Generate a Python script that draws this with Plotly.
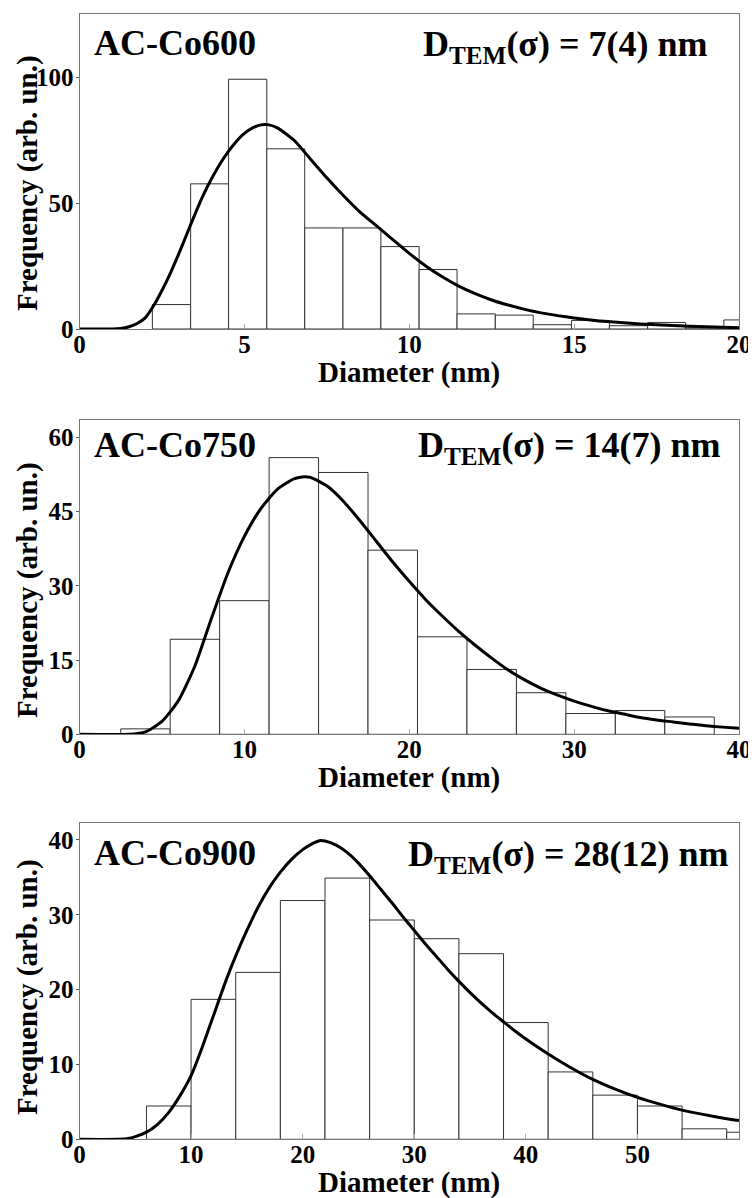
import plotly.graph_objects as go

# ---------------- data ----------------
# Panel 1: AC-Co600
edges1 = [2.21, 3.37, 4.52, 5.68, 6.83, 7.99, 9.14, 10.30, 11.45, 12.61, 13.76,
          14.92, 16.07, 17.23, 18.38, 19.54, 20.69]
counts1 = [9.7, 57.6, 99.1, 71.5, 40.1, 40.1, 32.7, 23.6, 6.0, 5.5, 1.7, 3.4,
           1.3, 2.6, 0.4, 3.6]
fit_x1 = [0, 1.0, 1.25, 1.5, 1.75, 2.0, 2.25, 2.5, 2.75, 3.0, 3.25, 3.5, 3.75,
          4.0, 4.25, 4.5, 4.75, 5.0, 5.25, 5.5, 5.75, 6.0, 6.5, 7.0, 7.5, 8.0,
          8.5, 9.0, 9.5, 10.0, 10.5, 11.0, 11.5, 12.0, 12.5, 13.0, 13.5, 14.0,
          14.5, 15.0, 15.5, 16.0, 17.0, 18.0, 19.0, 20.0]
fit_y1 = [0, 0, 0.2, 0.9, 2.2, 4.5, 9.3, 15.3, 22.0, 29.5, 37.5, 45.5, 53.0,
          59.5, 65.3, 70.2, 74.3, 77.6, 79.8, 81.0, 81.0, 79.8, 75.0, 67.5,
          60.0, 53.0, 46.5, 41.0, 35.5, 30.0, 25.0, 20.7, 17.0, 14.0, 11.5,
          9.5, 7.8, 6.4, 5.3, 4.4, 3.6, 2.95, 2.0, 1.35, 0.85, 0.5]

# Panel 2: AC-Co750
edges2 = [2.5, 5.5, 8.5, 11.5, 14.5, 17.5, 20.5, 23.5, 26.5, 29.5, 32.5, 35.5, 38.5]
counts2 = [1.1, 19.2, 27.0, 55.9, 52.9, 37.2, 19.7, 13.1, 8.4, 4.2, 4.8, 3.5]
fit_x2 = [0, 3.0, 4.0, 5.0, 6.0, 7.0, 8.0, 9.0, 10.0, 11.0, 12.0, 13.0, 13.5,
          14.0, 15.0, 16.0, 17.0, 18.0, 19.0, 20.0, 21.0, 22.0, 23.0, 24.0,
          25.0, 26.0, 27.0, 28.0, 29.0, 30.0, 31.0, 32.0, 33.0, 34.0, 35.0,
          36.0, 37.0, 38.0, 39.0, 40.0]
fit_y2 = [0, 0, 0.5, 2.6, 6.8, 13.8, 23.4, 32.6, 40.0, 45.6, 49.5, 51.6, 52.0,
          51.9, 50.2, 47.1, 43.2, 39.0, 34.8, 30.9, 27.2, 23.9, 20.8, 18.0,
          15.4, 13.0, 11.0, 9.3, 7.9, 6.7, 5.7, 4.8, 4.1, 3.4, 2.9, 2.5, 2.1,
          1.75, 1.45, 1.2]

# Panel 3: AC-Co900
edges3 = [6, 10, 14, 18, 22, 26, 30, 34, 38, 42, 46, 50, 54, 58, 62]
counts3 = [4.45, 18.7, 22.3, 31.9, 34.9, 29.3, 26.8, 24.8, 15.6, 9.0, 5.9,
           4.45, 1.4, 0.94]
fit_x3 = [0, 3.5, 4.5, 5.0, 6.0, 7.0, 8.0, 9.0, 10.0, 11.0, 12.0, 13.0, 14.0,
          15.0, 16.0, 17.0, 18.0, 19.0, 20.0, 21.0, 21.5, 22.0, 23.0, 24.0,
          25.0, 26.0, 27.0, 28.0, 29.0, 30.0, 31.0, 32.0, 33.0, 34.0, 35.0,
          36.0, 37.0, 38.0, 39.0, 40.0, 42.0, 44.0, 46.0, 48.0, 50.0, 52.0,
          54.0, 56.0, 58.0, 59.1]
fit_y3 = [0, 0, 0.15, 0.35, 0.95, 2.0, 3.6, 5.8, 8.5, 12.3, 16.5, 20.7, 24.5,
          27.9, 31.0, 33.6, 35.7, 37.4, 38.7, 39.6, 39.9, 39.85, 39.3, 38.3,
          36.9, 35.2, 33.4, 31.6, 29.7, 27.9, 26.1, 24.4, 22.7, 21.1, 19.6,
          18.2, 16.9, 15.7, 14.5, 13.4, 11.4, 9.6, 8.0, 6.7, 5.6, 4.7, 3.9,
          3.3, 2.75, 2.5]

samples = ["AC-Co600", "AC-Co750", "AC-Co900"]
d_tem = ["7(4)", "14(7)", "28(12)"]
x_ticks = [[0, 5, 10, 15, 20], [0, 10, 20, 30, 40], [0, 10, 20, 30, 40, 50]]
y_ticks = [[0, 50, 100], [0, 15, 30, 45, 60], [0, 10, 20, 30, 40]]
x_max = [20, 40, 59.1]
y_max = [125, 63.5, 42.3]

# ---------------- layout geometry (page pixels) ----------------
PAGE_W, PAGE_H = 756, 1198
OFF = 8                      # default body margin of the html page
W, H = PAGE_W - OFF, PAGE_H - OFF
left_px, right_px = 79.5, 739
tops_px = [14, 420, 822.7]
bottoms_px = [329, 734.3, 1139.3]


def px_x(px):
    return (px - OFF) / W


def px_y(py):
    return (H - (py - OFF)) / H


FONT = "Liberation Serif"

panels = [(edges1, counts1, fit_x1, fit_y1),
          (edges2, counts2, fit_x2, fit_y2),
          (edges3, counts3, fit_x3, fit_y3)]

fig = go.Figure()
layout = dict(width=W, height=H, margin=dict(l=0, r=0, t=0, b=0),
              paper_bgcolor="white", plot_bgcolor="white", showlegend=False)
annotations = []

for i, (edges, counts, fx, fy) in enumerate(panels):
    n = "" if i == 0 else str(i + 1)
    xa, ya = "x" + n, "y" + n
    centers = [(edges[k] + edges[k + 1]) / 2 for k in range(len(counts))]
    widths = [edges[k + 1] - edges[k] for k in range(len(counts))]
    fig.add_trace(go.Bar(x=centers, y=counts, width=widths, xaxis=xa, yaxis=ya,
                         marker=dict(color="white", line=dict(color="#333333", width=1))))
    fig.add_trace(go.Scatter(x=fx, y=fy, mode="lines", xaxis=xa, yaxis=ya,
                             line=dict(color="black", width=3, shape="spline", smoothing=0.6),
                             cliponaxis=False))

    ydom = [px_y(bottoms_px[i]), px_y(tops_px[i])]
    tickfont = dict(family=FONT, size=25, color="black", weight="bold")
    layout["xaxis" + n] = dict(domain=[px_x(left_px), px_x(right_px)], range=[0, x_max[i]],
                               anchor=ya, tickvals=x_ticks[i], ticks="inside", ticklen=5,
                               tickcolor="#aaaaaa", showline=True, linecolor="#777777",
                               linewidth=1, mirror=True, showgrid=False, zeroline=False,
                               tickfont=tickfont, automargin=False, ticklabelstandoff=-7)
    layout["yaxis" + n] = dict(domain=ydom, range=[0, y_max[i]], anchor=xa,
                               tickvals=y_ticks[i], ticks="outside", ticklen=3,
                               tickcolor="#555555", showline=True, linecolor="#777777",
                               linewidth=1, mirror=True, showgrid=False, zeroline=False,
                               tickfont=tickfont, automargin=False, ticklabelstandoff=-3)

    title_font = dict(family=FONT, size=29, color="black", weight="bold")
    label_font = dict(family=FONT, size=36, color="black", weight="bold")
    # x-axis title
    annotations.append(dict(text="Diameter (nm)", xref="paper", yref="paper",
                            x=px_x((left_px + right_px) / 2), y=px_y(bottoms_px[i] + 43),
                            xanchor="center", yanchor="middle", showarrow=False,
                            font=title_font))
    # y-axis title
    yc = [183, 590, 987][i]
    annotations.append(dict(text="Frequency (arb. un.)", xref="paper", yref="paper",
                            x=px_x(27), y=px_y(yc), textangle=-90,
                            xanchor="center", yanchor="middle", showarrow=False,
                            font=title_font))
    # sample label
    lab_y = [43, 444.5, 853.5][i]
    annotations.append(dict(text=samples[i], xref="paper", yref="paper",
                            x=px_x(175), y=px_y(lab_y), xanchor="center",
                            yanchor="middle", showarrow=False, font=label_font))
    # D_TEM label
    dx = [564.5, 568.5, 568][i]
    annotations.append(dict(text="D<sub>TEM</sub>(σ) = " + d_tem[i] + " nm",
                            xref="paper", yref="paper",
                            x=px_x(dx), y=px_y(lab_y + 3), xanchor="center",
                            yanchor="middle", showarrow=False, font=label_font))

layout["annotations"] = annotations
fig.update_layout(**layout)
fig.write_html("out.html")
